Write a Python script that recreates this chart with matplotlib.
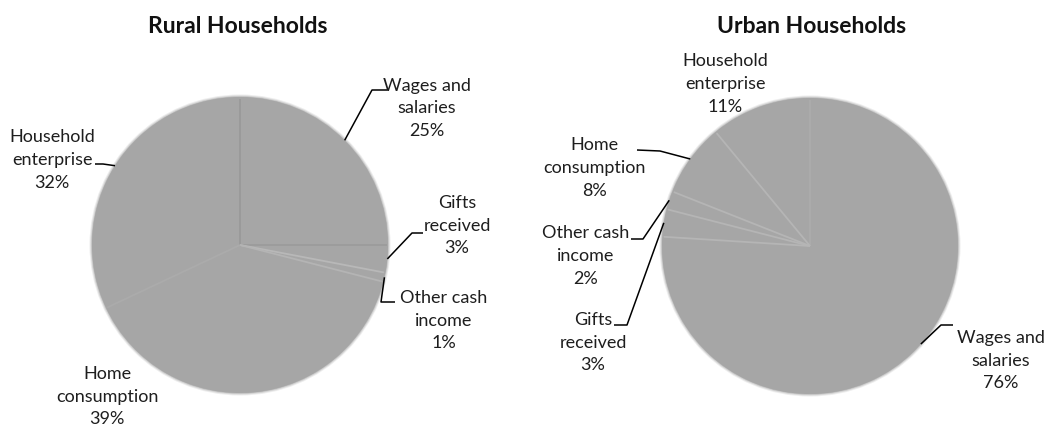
import numpy as np
import matplotlib
matplotlib.use("Agg")
import matplotlib.pyplot as plt
from matplotlib.patches import Circle

# ---------------- data ----------------
categories = ["Wages and\nsalaries", "Gifts\nreceived", "Other cash\nincome",
              "Home\nconsumption", "Household\nenterprise"]
rural_values = [25, 3, 1, 39, 32]
urban_values = [76, 3, 2, 8, 11]
titles = ["Rural Households", "Urban Households"]

# ---------------- layout (pixels, origin top-left) ----------------
W, H = 1062, 427
FONT = ["Lato", "DejaVu Sans"]
TEXT_COLOR = "#1e1e1e"
PIE_COLOR = "#a6a6a6"

pies = [
    dict(center=(240, 246), radius=148, title_xy=(238, 33),
         labels=[
             dict(xy=(427, 108), path=[(372, 91), (387, 91)]),
             dict(xy=(457, 226), path=[(412, 234), (423, 234)]),
             dict(xy=(444, 321), path=[(381, 303), (395, 303)]),
             dict(xy=(107, 397), path=None),
             dict(xy=(52, 160), path=[(103, 165), (95, 165)]),
         ],
         # colour of the boundary line at the START of each wedge (clockwise)
         bounds=["#999999", "#9c9c9c", "#b8b8b8", "#b4b4b4", "#ababab"]),
    dict(center=(810, 247), radius=148, title_xy=(812, 33),
         labels=[
             dict(xy=(1001, 361), path=[(941, 326), (953, 326)], ang=-41.5),
             dict(xy=(593, 343), path=[(627, 326), (614, 326)]),
             dict(xy=(586, 256), path=[(643, 240), (631, 240)]),
             dict(xy=(594, 168), path=[(660, 152), (637, 151)]),
             dict(xy=(725, 84), path=None),
         ],
         bounds=["#acacac", "#b5b5b5", "#b5b5b5", "#b5b5b5", "#b5b5b5"]),
]

fig = plt.figure(figsize=(W / 100, H / 100), dpi=100)
ax = fig.add_axes([0, 0, 1, 1])


def Y(y):
    return H - y


for pdef, values, title in zip(pies, [rural_values, urban_values], titles):
    cx, cy = pdef["center"]
    r = pdef["radius"]
    # soft halo to imitate blurred edge
    for k, a in zip([2.5, 1.5, 0.5], [0.2, 0.35, 0.6]):
        ax.add_patch(Circle((cx, Y(cy)), r + k, facecolor=PIE_COLOR,
                            edgecolor="none", alpha=a, zorder=1))
    wedges, _ = ax.pie(values, center=(cx, Y(cy)), radius=r, startangle=90,
                       counterclock=False, colors=[PIE_COLOR] * len(values),
                       wedgeprops=dict(linewidth=0, edgecolor="none"))
    for w in wedges:
        w.set_zorder(2)
    # radial boundary lines (drawn from the wedge geometry)
    for w, bc in zip(wedges, pdef["bounds"]):
        th = np.deg2rad(w.theta2)  # clockwise pie: start edge is theta2
        ax.plot([cx, cx + (r - 1.5) * np.cos(th)],
                [Y(cy), Y(cy) + (r - 1.5) * np.sin(th)],
                color=bc, linewidth=1.3, zorder=3, solid_capstyle="butt")

    total = float(sum(values))
    for w, cat, v, lab in zip(wedges, categories, values, pdef["labels"]):
        mid = 0.5 * (w.theta1 + w.theta2)
        ang = np.deg2rad(lab.get("ang", mid))
        ax.text(lab["xy"][0], Y(lab["xy"][1]), f"{cat}\n{round(100 * v / total)}%",
                ha="center", va="center", multialignment="center",
                fontsize=13, family=FONT, color=TEXT_COLOR, linespacing=1.5,
                zorder=5)
        if lab["path"] is not None:
            ax_x = cx + r * np.cos(ang)
            ax_y = Y(cy) + r * np.sin(ang)
            xs = [ax_x] + [p[0] for p in lab["path"]]
            ys = [ax_y] + [Y(p[1]) for p in lab["path"]]
            ax.plot(xs, ys, color="black", linewidth=1.1, zorder=4,
                    solid_capstyle="butt")

    ax.text(pdef["title_xy"][0], Y(pdef["title_xy"][1]), title, ha="center",
            va="baseline", fontsize=16.5, fontweight="bold", family=FONT,
            color="#111111", zorder=5)

ax.set_xlim(0, W)
ax.set_ylim(0, H)
ax.set_aspect("equal")
ax.axis("off")
fig.savefig("out.png", dpi=100, facecolor="white")
